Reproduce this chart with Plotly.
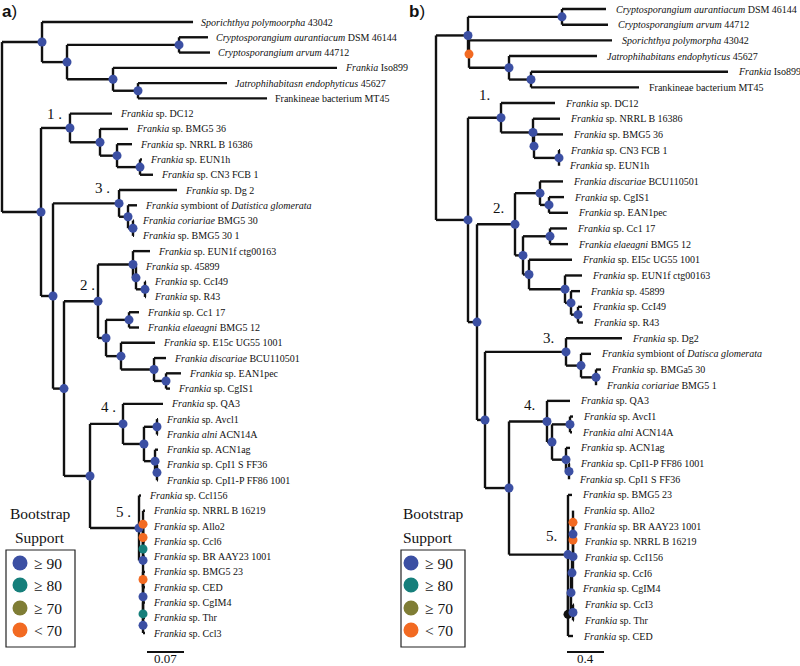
import plotly.graph_objects as go

# ================= DATA : panel a =================
leaf_keys_a = ["spor", "caur", "carv", "iso", "jat", "mt45", "dc12", "bmg536", "n16386", "eun1h", "cn3",
               "dg2", "sym", "cor", "b5301", "eun1f", "f45899", "ccl49", "r43", "cc117", "ela", "e15c",
               "disc", "ean1", "cgis1", "qa3", "avc", "acn14a", "acn1ag", "cps", "cpp", "ccl156", "n16219",
               "allo2", "ccl6", "br", "bmg523", "ced", "cgim4", "thr", "ccl3"]
leaf_labels_a = ["<i>Sporichthya polymoorpha</i> 43042", "<i>Cryptosporangium aurantiacum</i> DSM 46144",
                 "<i>Cryptosporangium arvum</i> 44712", "<i>Frankia</i> Iso899",
                 "<i>Jatrophihabitasn endophyticus</i> 45627", "Frankineae bacterium MT45",
                 "<i>Frankia</i> sp. DC12", "<i>Frankia</i> sp. BMG5 36", "<i>Frankia</i> sp. NRRL B 16386",
                 "<i>Frankia</i> sp. EUN1h", "<i>Frankia</i> sp. CN3 FCB 1", "<i>Frankia</i> sp. Dg 2",
                 "<i>Frankia</i> symbiont of <i>Datistica glomerata</i>", "<i>Frankia coriariae</i> BMG5 30",
                 "<i>Frankia</i> sp. BMG5 30 1", "<i>Frankia</i> sp. EUN1f ctg00163", "<i>Frankia</i> sp. 45899",
                 "<i>Frankia</i> sp. CcI49", "<i>Frankia</i> sp. R43", "<i>Frankia</i> sp. Cc1 17",
                 "<i>Frankia elaeagni</i> BMG5 12", "<i>Frankia</i> sp. E15c UG55 1001",
                 "<i>Frankia discariae</i> BCU110501", "<i>Frankia</i> sp. EAN1pec", "<i>Frankia</i> sp. CgIS1",
                 "<i>Frankia</i> sp. QA3", "<i>Frankia</i> sp. Avcl1", "<i>Frankia alni</i> ACN14A",
                 "<i>Frankia</i> sp. ACN1ag", "<i>Frankia</i> sp. CpI1 S FF36", "<i>Frankia</i> sp. CpI1-P FF86 1001",
                 "<i>Frankia</i> sp. Ccl156", "<i>Frankia</i> sp. NRRL B 16219", "<i>Frankia</i> sp. Allo2",
                 "<i>Frankia</i> sp. Ccl6", "<i>Frankia</i> sp. BR AAY23 1001", "<i>Frankia</i> sp. BMG5 23",
                 "<i>Frankia</i> sp. CED", "<i>Frankia</i> sp. CgIM4", "<i>Frankia</i> sp. Thr",
                 "<i>Frankia</i> sp. Ccl3"]
leaf_depth_a = [0.3614, 0.3897, 0.3935, 0.6338, 0.4257, 0.5014, 0.2081, 0.2384, 0.2459, 0.2649, 0.2857,
                0.3311, 0.2554, 0.2497, 0.2497, 0.2800, 0.2554, 0.2724, 0.2724, 0.2592, 0.2592, 0.2895,
                0.3103, 0.3386, 0.3178, 0.3046, 0.2951, 0.2951, 0.2951, 0.2951, 0.2951, 0.2630, 0.2705,
                0.2705, 0.2705, 0.2705, 0.2705, 0.2705, 0.2705, 0.2705, 0.2705]
node_keys_a = ["root", "oA", "oA2", "crA", "oA3", "oA4", "inA", "a1", "a1b", "a1c", "a1d", "r1A", "a3", "a3b",
               "a3c", "r2A", "a2", "a2a", "a2c", "a2d", "a2b", "a2e", "a2f", "a2g", "a2h", "r3A", "a4", "a4b",
               "a4c", "a4d", "a4e", "a5", "a5b", "a5c", "a5d", "a5e", "a5f", "a5g", "a5h", "a5i"]
node_depth_a = [0.0, 0.0757, 0.1230, 0.3349, 0.2100, 0.2573, 0.0738, 0.1286, 0.1854, 0.2176, 0.2611, 0.0965,
                0.2214, 0.2384, 0.2478, 0.1173, 0.1816, 0.2478, 0.2535, 0.2705, 0.1968, 0.2403, 0.2251, 0.2876,
                0.3103, 0.1665, 0.2289, 0.2686, 0.2932, 0.2895, 0.2932, 0.2592, 0.2668, 0.2668, 0.2668, 0.2668,
                0.2668, 0.2668, 0.2668, 0.2668]
node_children_a = [["oA", "inA"], ["spor", "oA2"], ["crA", "oA3"], ["caur", "carv"], ["iso", "oA4"],
                   ["jat", "mt45"], ["a1", "r1A"], ["dc12", "a1b"], ["bmg536", "a1c"], ["n16386", "a1d"],
                   ["eun1h", "cn3"], ["a3", "r2A"], ["dg2", "a3b"], ["sym", "a3c"], ["cor", "b5301"],
                   ["a2", "r3A"], ["a2a", "a2b"], ["eun1f", "a2c"], ["f45899", "a2d"], ["ccl49", "r43"],
                   ["a2e", "a2f"], ["cc117", "ela"], ["e15c", "a2g"], ["disc", "a2h"], ["ean1", "cgis1"],
                   ["a4", "a5"], ["qa3", "a4b"], ["a4c", "a4d"], ["avc", "acn14a"], ["acn1ag", "a4e"],
                   ["cps", "cpp"], ["ccl156", "a5b"], ["a5c", "a5f"], ["n16219", "a5d"], ["allo2", "a5e"],
                   ["ccl6", "br"], ["a5g", "a5h"], ["bmg523", "ced"], ["cgim4", "a5i"], ["thr", "ccl3"]]
node_support_a = [""] + ["≥ 90"] * 30 + ["≥ 90", "≥ 90", "< 70", "< 70", "≥ 80", "≥ 90", "< 70", "≥ 80", "≥ 90"]
clade_nodes_a = ["a1", "a3", "a2", "a4", "a5"]
clade_names_a = ["1 .", "3 .", "2 .", "4 .", "5 ."]

# ================= DATA : panel b =================
leaf_keys_b = ["caur", "carv", "spor", "jat", "iso", "mt45", "dc12", "n16386", "bmg536", "cn3", "eun1h",
               "disc", "cgis1", "ean1", "cc117", "ela", "ei5c", "eun1f", "f45899", "ccl49", "r43", "dg2",
               "sym", "bmga", "cor", "qa3", "avc", "acn14a", "acn1ag", "cpp", "cps", "bmg523", "allo2", "br",
               "n16219", "ccl156", "ccl6", "cgim4", "ccl3", "thr", "ced"]
leaf_labels_b = ["<i>Cryptosporangium aurantiacum</i> DSM 46144", "<i>Cryptosporangium arvum</i> 44712",
                 "<i>Sporichthya polymorpha</i> 43042", "<i>Jatrophihabitans endophyticus</i> 45627",
                 "<i>Frankia</i> Iso899", "Frankineae bacterium MT45", "<i>Frankia</i> sp. DC12",
                 "<i>Frankia</i> sp. NRRL B 16386", "<i>Frankia</i> sp. BMG5 36", "<i>Frankia</i> sp. CN3 FCB 1",
                 "<i>Frankia</i> sp. EUN1h", "<i>Frankia discariae</i> BCU110501", "<i>Frankia</i> sp. CgIS1",
                 "<i>Frankia</i> sp. EAN1pec", "<i>Frankia</i> sp. Cc1 17", "<i>Frankia elaeagni</i> BMG5 12",
                 "<i>Frankia</i> sp. EI5c UG55 1001", "<i>Frankia</i> sp. EUN1f ctg00163",
                 "<i>Frankia</i> sp. 45899", "<i>Frankia</i> sp. CcI49", "<i>Frankia</i> sp. R43",
                 "<i>Frankia</i> sp. Dg2", "<i>Frankia</i> symbiont of <i>Datisca glomerata</i>",
                 "<i>Frankia</i> sp. BMGa5 30", "<i>Frankia coriariae</i> BMG5 1", "<i>Frankia</i> sp. QA3",
                 "<i>Frankia</i> sp. AvcI1", "<i>Frankia alni</i> ACN14A", "<i>Frankia</i> sp. ACN1ag",
                 "<i>Frankia</i> sp. CpI1-P FF86 1001", "<i>Frankia</i> sp. CpI1 S FF36",
                 "<i>Frankia</i> sp. BMG5 23", "<i>Frankia</i> sp. Allo2", "<i>Frankia</i> sp. BR AAY23 1001",
                 "<i>Frankia</i> sp. NRRL B 16219", "<i>Frankia</i> sp. CcI156", "<i>Frankia</i> sp. CcI6",
                 "<i>Frankia</i> sp. CgIM4", "<i>Frankia</i> sp. CcI3", "<i>Frankia</i> sp. Thr",
                 "<i>Frankia</i> sp. CED"]
leaf_depth_b = [1.8378, 1.8595, 1.9027, 1.7405, 3.1568, 2.1946, 1.2865, 1.3405, 1.3730, 1.3405, 1.3297,
                1.3730, 1.3838, 1.4270, 1.4162, 1.4270, 1.4703, 1.5784, 1.5568, 1.5784, 1.5892, 2.0108,
                1.6757, 1.7838, 1.7297, 1.4486, 1.4811, 1.4703, 1.4486, 1.4486, 1.4378, 1.4703, 1.4811,
                1.4811, 1.4919, 1.4919, 1.4811, 1.4703, 1.4919, 1.4919, 1.4811]
node_keys_b = ["root", "oB", "xB", "crB", "jB", "kB", "inB", "b1", "b1a", "b1b", "b1c", "restB", "b2", "b2a",
               "b2c", "b2b", "b2d", "b2e", "b2f", "b2g", "b2h", "r345", "b3", "b3a", "b3b", "r45", "b4", "b4a",
               "b4b", "b4c", "b4d", "b5", "b5a", "b5b", "b5c", "b5d", "b5e", "b5f", "b5g", "b5i"]
node_depth_b = [0.0, 0.3459, 0.3568, 1.3622, 0.7892, 1.0270, 0.3459, 0.7027, 1.0486, 1.0595, 1.3297, 0.4432,
                0.8541, 1.1243, 1.2216, 0.9405, 1.2324, 1.0054, 1.3946, 1.4595, 1.5351, 0.5297, 1.4054, 1.5676,
                1.7297, 0.7892, 1.2000, 1.2541, 1.4486, 1.4054, 1.4378, 1.4270, 1.4270, 1.4595, 1.4703, 1.4811,
                1.4811, 1.4811, 1.4811, 1.4811]
node_children_b = [["oB", "inB"], ["crB", "xB"], ["spor", "jB"], ["caur", "carv"], ["jat", "kB"],
                   ["iso", "mt45"], ["b1", "restB"], ["dc12", "b1a"], ["n16386", "b1b"], ["bmg536", "b1c"],
                   ["cn3", "eun1h"], ["b2", "r345"], ["b2a", "b2b"], ["disc", "b2c"], ["cgis1", "ean1"],
                   ["b2d", "b2e"], ["cc117", "ela"], ["ei5c", "b2f"], ["eun1f", "b2g"], ["f45899", "b2h"],
                   ["ccl49", "r43"], ["b3", "r45"], ["dg2", "b3a"], ["sym", "b3b"], ["bmga", "cor"],
                   ["b4", "b5"], ["qa3", "b4a"], ["b4b", "b4c"], ["avc", "acn14a"], ["acn1ag", "b4d"],
                   ["cpp", "cps"], ["bmg523", "b5a"], ["b5b", "ced"], ["b5c", "b5i"], ["b5d", "cgim4"],
                   ["b5e", "ccl6"], ["b5f", "ccl156"], ["allo2", "b5g"], ["br", "n16219"], ["ccl3", "thr"]]
node_support_b = ["", "≥ 90", "< 70"] + ["≥ 90"] * 28 + ["≥ 90", "n/a", "≥ 90", "≥ 90", "≥ 90", "< 70", "< 70",
                                                       "≥ 90", "≥ 90"]
clade_nodes_b = ["b1", "b2", "b3", "b4", "b5"]
clade_names_b = ["1.", "2.", "3.", "4.", "5."]

support_classes = ["≥ 90", "≥ 80", "≥ 70", "< 70"]
scale_a = 0.07
scale_b = 0.4

# ================= STYLE =================
W, H = 800, 666
SERIF = "Liberation Serif, Times New Roman, serif"
COL = {"≥ 90": "#3B4FA3", "≥ 80": "#167F7B", "≥ 70": "#7F7D35", "< 70": "#F26A22", "n/a": "#111111"}
LINE_W = 2.4

# pixel geometry of each panel (x px of root, px per unit, y px of first leaf, leaf spacing)
panels = {
    "a": dict(x0=2, ppu=37 / scale_a, y0=22, dy=15.275, dom=[0, 0.5],
              clade_off=[(-6, 4), (-7, 5), (-1, 6), (-5, 7), (-6, 6)], lab_shift=6, clade_fs=15),
    "b": dict(x0=436, ppu=37 / scale_b, y0=9, dy=15.675, dom=[0.5, 1],
              clade_off=[(-9, 13), (-9, 6), (-10, 4), (-10, 6), (-9, 9)], lab_shift=8, clade_fs=15),
}


def layout_tree(leaf_keys, leaf_depth, node_keys, node_depth, node_children):
    pos = {k: (leaf_depth[i], i) for i, k in enumerate(leaf_keys)}
    nd = {k: (node_depth[i], node_children[i]) for i, k in enumerate(node_keys)}

    def get(k):
        if k in pos:
            return pos[k]
        d, ch = nd[k]
        ys = [get(c)[1] for c in ch]
        pos[k] = (d, (min(ys) + max(ys)) / 2)
        return pos[k]

    for k in node_keys:
        get(k)
    return pos


fig = go.Figure()
annotations = []
shapes = []

datasets = {
    "a": (leaf_keys_a, leaf_labels_a, leaf_depth_a, node_keys_a, node_depth_a, node_children_a, node_support_a,
          clade_nodes_a, clade_names_a, scale_a),
    "b": (leaf_keys_b, leaf_labels_b, leaf_depth_b, node_keys_b, node_depth_b, node_children_b, node_support_b,
          clade_nodes_b, clade_names_b, scale_b),
}

for idx, (p, data) in enumerate(datasets.items()):
    lk, ll, ld, nk, ndp, nch, nsup, cn, cnames, scale = data
    g = panels[p]
    xa = "x" if idx == 0 else "x2"
    ya = "y" if idx == 0 else "y2"
    pos = layout_tree(lk, ld, nk, ndp, nch)

    xs, ys = [], []
    for i, k in enumerate(nk):
        d, y = pos[k]
        cy = [pos[c][1] for c in nch[i]]
        xs += [d, d, None]
        ys += [min(cy), max(cy), None]
        for c in nch[i]:
            cd, cyy = pos[c]
            xs += [d, cd, None]
            ys += [cyy, cyy, None]
    fig.add_trace(go.Scatter(x=xs, y=ys, mode="lines", line=dict(color="#111111", width=LINE_W),
                             xaxis=xa, yaxis=ya, hoverinfo="skip", showlegend=False))

    dx, dy, dc = [], [], []
    for i, k in enumerate(nk):
        if nsup[i] == "":
            continue
        dx.append(pos[k][0])
        dy.append(pos[k][1])
        dc.append(COL[nsup[i]])
    fig.add_trace(go.Scatter(x=dx, y=dy, mode="markers", marker=dict(color=dc, size=9, line=dict(width=0)),
                             xaxis=xa, yaxis=ya, hoverinfo="skip", showlegend=False))

    for i, k in enumerate(lk):
        annotations.append(dict(x=pos[k][0], y=pos[k][1], xref=xa, yref=ya, text=ll[i], showarrow=False,
                                xanchor="left", yanchor="middle", xshift=g["lab_shift"],
                                font=dict(family=SERIF, size=10, color="#111111")))

    for j, k in enumerate(cn):
        ox, oy = g["clade_off"][j]
        annotations.append(dict(x=pos[k][0], y=pos[k][1], xref=xa, yref=ya, text=cnames[j], showarrow=False,
                                xanchor="right", yanchor="bottom", xshift=ox, yshift=oy,
                                font=dict(family=SERIF, size=g["clade_fs"], color="#111111")))

    # scale bar
    sb_x0 = ((147 if p == "a" else 567) - g["x0"]) / g["ppu"]
    shapes.append(dict(type="line", xref=xa, yref="paper", x0=sb_x0, x1=sb_x0 + scale,
                       y0=1 - 652 / H, y1=1 - 652 / H, line=dict(color="#111111", width=2)))
    annotations.append(dict(x=sb_x0 + scale / 2, y=1 - 658 / H, xref=xa, yref="paper", text=str(scale),
                            showarrow=False, xanchor="center", yanchor="middle",
                            font=dict(family=SERIF, size=13, color="#111111")))

# ---------- legends (Bootstrap Support) ----------
legend_geo = [dict(box=(6, 550, 75, 647), cx=20, tx=32, title_x=40, title_anchor="center"),
              dict(box=(401, 550, 465, 647), cx=411, tx=423, title_x=401, title_anchor="left")]
for lg in legend_geo:
    x0, y0, x1, y1 = lg["box"]
    shapes.append(dict(type="rect", xref="paper", yref="paper", x0=x0 / W, x1=x1 / W, y0=1 - y0 / H,
                       y1=1 - y1 / H, line=dict(color="#222222", width=1.2), fillcolor="rgba(0,0,0,0)"))
    annotations.append(dict(x=lg["title_x"] / W, y=1 - 513 / H, xref="paper", yref="paper", text="Bootstrap",
                            showarrow=False, xanchor=lg["title_anchor"], yanchor="middle",
                            font=dict(family=SERIF, size=15.5, color="#111111")))
    annotations.append(dict(x=lg["title_x"] / W, y=1 - 537 / H, xref="paper", yref="paper", text="Support",
                            showarrow=False, xanchor=lg["title_anchor"], yanchor="middle",
                            font=dict(family=SERIF, size=15.5, color="#111111")))
    for j, cls in enumerate(support_classes):
        cy = [563, 585, 608, 630][j]
        r = 7.5
        shapes.append(dict(type="circle", xref="paper", yref="paper", x0=(lg["cx"] - r) / W,
                           x1=(lg["cx"] + r) / W, y0=1 - (cy - r) / H, y1=1 - (cy + r) / H,
                           fillcolor=COL[cls], line=dict(width=0)))
        annotations.append(dict(x=lg["tx"] / W, y=1 - cy / H, xref="paper", yref="paper", text=cls,
                                showarrow=False, xanchor="left", yanchor="middle",
                                font=dict(family=SERIF, size=15.5, color="#111111")))

# panel letters
for txt, px in [("<b>a</b>)", 0), ("<b>b</b>)", 407)]:
    annotations.append(dict(x=px / W, y=1 - 11 / H, xref="paper", yref="paper", text=txt, showarrow=False,
                            xanchor="left", yanchor="middle",
                            font=dict(family="Liberation Sans, Arial, sans-serif", size=17, color="#111111")))

ga, gb = panels["a"], panels["b"]
fig.update_layout(
    width=W, height=H, margin=dict(l=0, r=0, t=0, b=0),
    paper_bgcolor="white", plot_bgcolor="white",
    xaxis=dict(domain=ga["dom"], range=[(0 - ga["x0"]) / ga["ppu"], (400 - ga["x0"]) / ga["ppu"]],
               visible=False),
    yaxis=dict(domain=[0, 1], range=[(H - ga["y0"]) / ga["dy"], -ga["y0"] / ga["dy"]], visible=False),
    xaxis2=dict(domain=gb["dom"], range=[(400 - gb["x0"]) / gb["ppu"], (800 - gb["x0"]) / gb["ppu"]],
                visible=False),
    yaxis2=dict(domain=[0, 1], range=[(H - gb["y0"]) / gb["dy"], -gb["y0"] / gb["dy"]], visible=False,
                anchor="x2"),
    annotations=annotations, shapes=shapes, showlegend=False,
)

fig.write_html("out.html", config={"displayModeBar": False},
               post_script="document.body.style.margin='0';document.body.style.overflow='hidden';")
